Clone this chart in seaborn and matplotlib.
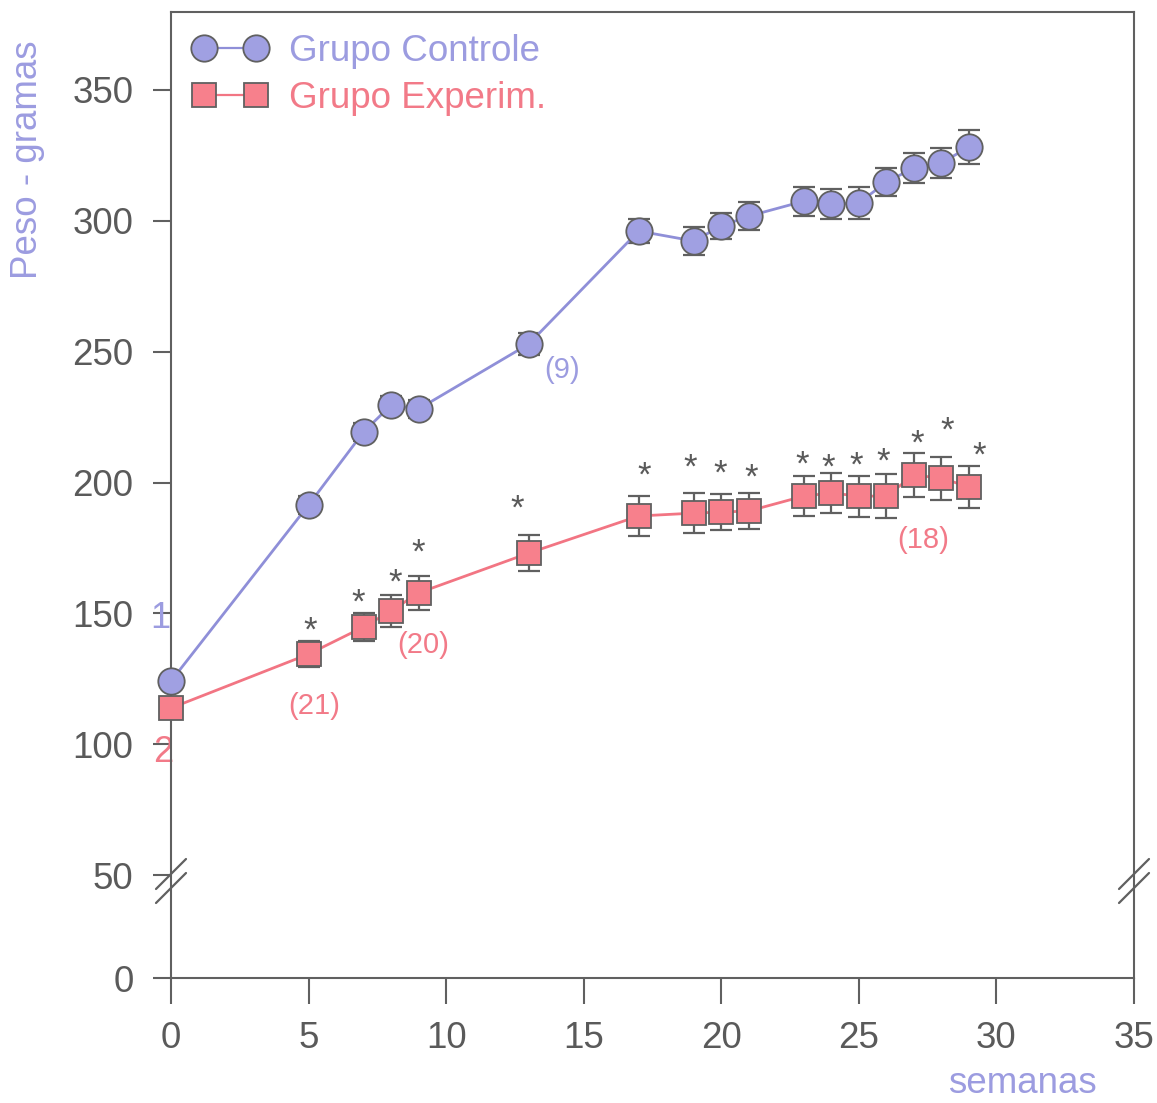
import numpy as np
import pandas as pd
import matplotlib
matplotlib.use("Agg")
import matplotlib.pyplot as plt
from matplotlib.lines import Line2D
import seaborn as sns

# ---- data -------------------------------------------------------------
semanas = [0, 5, 7, 8, 9, 13, 17, 19, 20, 21, 23, 24, 25, 26, 27, 28, 29]

controle_media = [124.1, 191.4, 219.3, 229.6, 228.1, 252.9, 296.1, 292.3, 298.0,
                  301.8, 307.5, 306.4, 306.8, 314.8, 320.2, 322.1, 328.2]
controle_erro = [2.0, 3.6, 3.6, 3.6, 3.6, 4.2, 4.6, 5.5, 5.0,
                 5.3, 5.5, 5.7, 6.0, 5.3, 5.9, 5.7, 6.6]

experim_media = [113.8, 134.4, 144.8, 150.9, 157.8, 173.0, 187.2, 188.3, 188.7,
                 189.1, 194.8, 196.0, 194.8, 194.8, 202.8, 201.7, 198.3]
experim_erro = [3.0, 5.0, 5.5, 6.0, 6.5, 7.0, 7.5, 7.5, 6.8,
                7.0, 7.5, 7.5, 7.8, 8.3, 8.3, 8.2, 7.9]

# significance marks (*) above the experimental group
asterisco_x = [5.05, 6.80, 8.14, 8.98, 12.58, 17.19, 18.86, 19.95, 21.08,
               22.93, 23.88, 24.90, 25.88, 27.12, 28.21, 29.37]
asterisco_y = [145.5, 156.2, 163.9, 175.3, 192.1, 204.8, 207.8, 205.5, 204.0,
               209.0, 207.8, 208.6, 210.1, 217.0, 222.0, 212.4]

# sample sizes written next to the curves
n_textos = ["(9)", "(21)", "(20)", "(18)"]
n_x = [14.2, 5.2, 9.15, 27.35]
n_y = [243.0, 114.5, 138.0, 178.0]
n_grupo = ["c", "e", "e", "e"]

y_ticks = [0, 50, 100, 150, 200, 250, 300, 350]
x_ticks = [0, 5, 10, 15, 20, 25, 30, 35]

# ---- style ------------------------------------------------------------
sns.set_theme(style="white")
plt.rcParams["font.family"] = ["Liberation Sans", "DejaVu Sans"]

roxo_fill = "#a0a0e2"
roxo_line = "#8f8fd8"
roxo_txt = "#9c9ce0"
verm_fill = "#f7808c"
verm_line = "#f27583"
verm_txt = "#f27a88"
cinza = "#606060"
cinza_txt = "#5a5a5a"

fig = plt.figure(figsize=(11.57, 11.03), dpi=100)
ax = fig.add_axes([0.1478, 0.1133, 0.8322, 0.8758])

# broken y axis: 0-50 compressed, 50+ linear
R = 103.0 / 130.8


def fwd(y):
    y = np.asarray(y, dtype=float)
    return np.where(y < 50, y * R, 50 * R + (y - 50))


def inv(y):
    y = np.asarray(y, dtype=float)
    return np.where(y < 50 * R, y / R, y - 50 * R + 50)


ax.set_yscale("function", functions=(fwd, inv))

df = pd.DataFrame({
    "semana": semanas * 2,
    "peso": controle_media + experim_media,
    "erro": controle_erro + experim_erro,
    "grupo": ["Grupo Controle"] * len(semanas) + ["Grupo Experim."] * len(semanas),
})

# error bars behind the markers
for grupo in ["Grupo Controle", "Grupo Experim."]:
    d = df[df["grupo"] == grupo]
    eb = ax.errorbar(d["semana"], d["peso"], yerr=d["erro"], fmt="none",
                     ecolor=cinza, elinewidth=1.6, capsize=7.6, capthick=1.6, zorder=2)
    for art in eb.lines[1] + eb.lines[2]:
        art.set_clip_on(False)

dc = df[df["grupo"] == "Grupo Controle"]
de = df[df["grupo"] == "Grupo Experim."]
sns.lineplot(data=dc, x="semana", y="peso", ax=ax, color=roxo_line, lw=2,
             marker="o", markersize=19, markerfacecolor=roxo_fill,
             markeredgecolor=cinza, markeredgewidth=1.3, zorder=3, legend=False,
             clip_on=False)
sns.lineplot(data=de, x="semana", y="peso", ax=ax, color=verm_line, lw=2,
             marker="s", markersize=17.5, markerfacecolor=verm_fill,
             markeredgecolor=cinza, markeredgewidth=1.3, zorder=3, legend=False,
             clip_on=False)

# asterisks
for xs, ys in zip(asterisco_x, asterisco_y):
    ax.annotate("*", (xs, ys), xytext=(0, -6), textcoords="offset pixels",
                ha="center", va="center", fontsize=25, color=cinza_txt, zorder=4)

for t, xs, ys, g in zip(n_textos, n_x, n_y, n_grupo):
    ax.text(xs, ys, t, ha="center", va="center", fontsize=21,
            color=roxo_txt if g == "c" else verm_txt, zorder=4)

# remnants of labels sitting on the left axis
ax.text(-0.4, 148, "1", ha="center", va="center", fontsize=26, color=roxo_txt,
        zorder=1, clip_on=False)
ax.text(-0.3, 97, "2", ha="center", va="center", fontsize=26, color=verm_txt,
        zorder=1, clip_on=False)

# axes
ax.set_xlim(0, 35)
ax.set_ylim(0, 379.8)
ax.set_xticks(x_ticks)
ax.set_yticks(y_ticks)
ax.set_xticklabels([str(v) for v in x_ticks])
ax.set_yticklabels([str(v) for v in y_ticks])
ax.minorticks_off()
ax.tick_params(axis="both", which="major", direction="out", length=19, width=1.5,
               color=cinza, labelsize=26.5, labelcolor=cinza_txt, pad=12,
               left=True, bottom=True)
ax.tick_params(axis="y", length=13, pad=14)
for sp in ax.spines.values():
    sp.set_color(cinza)
    sp.set_linewidth(1.5)
ax.set_xlabel("")
ax.set_ylabel("")

fig.text(0.884, 0.018, "semanas", ha="center", va="center", fontsize=26.5,
         color=roxo_txt)
fig.text(0.024, 0.855, "Peso - gramas", ha="center", va="center", rotation=90,
         fontsize=26.5, color=roxo_txt)

# break marks on both vertical spines at y = 50
for x_px in (171, 1134):
    for dy in (0, 14):
        fig.add_artist(Line2D([x_px - 15, x_px + 15],
                              [1103 - 903 + dy, 1103 - 873 + dy],
                              transform=None, color=cinza, lw=1.6))

# legend
h_c = Line2D([], [], color=roxo_line, lw=1.6, marker="o", markersize=19,
             markerfacecolor=roxo_fill, markeredgecolor=cinza, markeredgewidth=1.3)
h_e = Line2D([], [], color=verm_line, lw=1.6, marker="s", markersize=17.5,
             markerfacecolor=verm_fill, markeredgecolor=cinza, markeredgewidth=1.3)
leg = ax.legend([h_c, h_e], ["Grupo Controle", "Grupo Experim."], loc="upper left",
                bbox_to_anchor=(0.0, 1.0), numpoints=2, handlelength=2.0,
                handletextpad=0.6, labelspacing=0.33, frameon=False, fontsize=26.5,
                borderaxespad=0.35, borderpad=0.25)
leg.get_texts()[0].set_color(roxo_txt)
leg.get_texts()[1].set_color(verm_txt)

fig.savefig("out.png", dpi=100)
